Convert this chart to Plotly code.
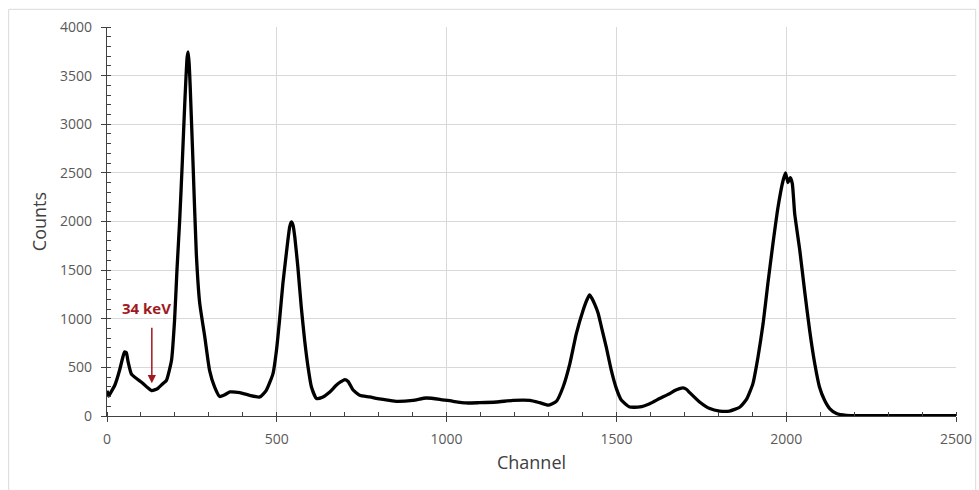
import plotly.graph_objects as go

channel = [0, 5, 10, 23, 37, 47, 52, 57, 62, 72, 87, 106, 120, 131, 140, 150, 165, 175, 190, 199, 206,
           214, 222, 229, 236, 239, 242, 245, 253, 263, 273, 288, 302, 317, 332, 345, 362, 391, 420,
           450, 469, 489, 499, 508, 518, 528, 538, 543, 548, 553, 562, 572, 582, 592, 602, 617, 636, 656,
           675, 690, 700, 710, 724, 744, 773, 803, 832, 852, 901, 940, 980, 1019, 1058, 1097, 1147, 1196,
           1245, 1274, 1299, 1323, 1343, 1363, 1382, 1402, 1414, 1421, 1428, 1436, 1446, 1456, 1470, 1485,
           1500, 1515, 1539, 1569, 1598, 1627, 1657, 1672, 1686, 1696, 1706, 1716, 1745, 1775, 1804, 1833, 1863,
           1883, 1902, 1917, 1932, 1946, 1961, 1976, 1991, 1998, 2005, 2012, 2018, 2025, 2040, 2054,
           2069, 2084, 2098, 2113, 2128, 2148, 2177, 2250, 2500]
counts = [260, 205, 235, 316, 470, 610, 660, 650, 560, 430, 385, 335, 290, 262, 268, 285, 335, 367, 573, 985, 1500,
          2010, 2630, 3215, 3690, 3745, 3620, 3385, 2630, 1670, 1160, 812, 470, 298, 200, 215, 247, 240, 213,
          196, 264, 439, 675, 984, 1364, 1670, 1944, 1995, 1960, 1840, 1532, 1121, 778, 504, 298, 179, 196, 247,
          316, 355, 375, 355, 270, 213, 196, 175, 160, 151, 161, 185, 172, 151, 134, 137, 144, 161,
          161, 137, 112, 150, 298, 539, 847, 1087, 1200, 1245, 1210, 1150, 1060, 915, 710, 470,
          282, 161, 93, 93, 127, 179, 230, 262, 282, 290, 275, 240, 144, 76, 51, 51, 90,
          170, 333, 607, 950, 1361, 1773, 2149, 2424, 2500, 2400, 2450, 2390, 2081, 1704, 1293,
          881, 539, 298, 161, 76, 25, 7, 3, 3]

x_ticks = [0, 500, 1000, 1500, 2000, 2500]
y_ticks = [0, 500, 1000, 1500, 2000, 2500, 3000, 3500, 4000]

marker_channel = 132
marker_counts = 336
marker_label = "34 keV"

axis_color = "#404040"
grid_color = "#d9d9d9"
label_color = "#595959"
red = "#A0191E"
font = "Open Sans"

fig = go.Figure()
fig.add_trace(go.Scatter(x=channel, y=counts, mode="lines",
                         line=dict(color="black", width=3.3, shape="spline", smoothing=0.5),
                         showlegend=False))

fig.add_annotation(x=marker_channel, y=marker_counts, ax=0, ay=-57, text="",
                   showarrow=True, arrowhead=2, arrowsize=1.1, arrowwidth=1.5,
                   arrowcolor=red, xref="x", yref="y")
fig.add_annotation(x=116, y=1110, text="<b>" + marker_label + "</b>", showarrow=False,
                   font=dict(family=font, size=15, color=red), xref="x", yref="y")

fig.add_shape(type="rect", xref="paper", yref="paper", x0=-0.1158, x1=1.0232, y0=-0.25, y1=1.0455,
              line=dict(color="#d9d9d9", width=1), fillcolor="rgba(0,0,0,0)", layer="below")

fig.update_layout(
    width=979, height=490,
    margin=dict(l=107, r=23, t=27, b=74, autoexpand=False),
    paper_bgcolor="white", plot_bgcolor="white",
    font=dict(family=font, size=14, color=label_color),
    xaxis=dict(range=[0, 2500], tickvals=x_ticks, ticktext=[str(v) for v in x_ticks],
               showgrid=True, gridcolor=grid_color, gridwidth=1,
               showline=True, linecolor=axis_color, linewidth=1.3,
               ticks="outside", ticklen=5, tickcolor=axis_color, tickwidth=1,
               minor=dict(dtick=100, ticks="inside", ticklen=4, tickcolor=axis_color, showgrid=False),
               zeroline=False, ticklabelstandoff=5, automargin=False,
               title=dict(text="Channel", font=dict(family=font, size=18, color="#404040"), standoff=9)),
    yaxis=dict(range=[0, 4000], tickvals=y_ticks, ticktext=[str(v) for v in y_ticks],
               showgrid=True, gridcolor=grid_color, gridwidth=1,
               showline=True, linecolor=axis_color, linewidth=1.3,
               ticks="outside", ticklen=5, tickcolor=axis_color, tickwidth=1,
               minor=dict(dtick=100, ticks="inside", ticklen=4, tickcolor=axis_color, showgrid=False),
               zeroline=False, ticklabelstandoff=6, automargin=False,
               title=dict(text="Counts", font=dict(family=font, size=18, color="#404040"), standoff=8)),
)

fig.write_html("out.html")
